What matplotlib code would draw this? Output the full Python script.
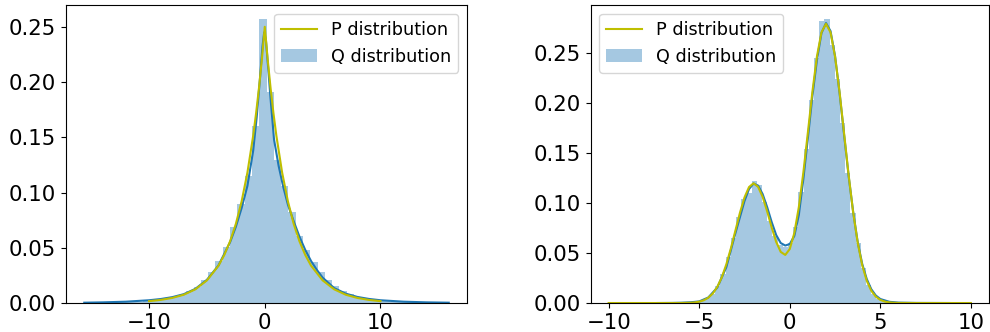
import numpy as np
import matplotlib
matplotlib.use("Agg")
import matplotlib.pyplot as plt

# ---------------- Left panel data (Laplace-like) ----------------
left_hist_range = (-15.6, 15.9)
left_hist_heights = [0.0002, 0.0002, 0.0003, 0.0003, 0.0005, 0.0006, 0.0009, 0.0012, 0.0016, 0.0022,
                     0.003, 0.004, 0.0055, 0.0075, 0.0105, 0.0145, 0.0205, 0.028, 0.038, 0.051,
                     0.069, 0.09, 0.115, 0.16, 0.257, 0.191, 0.129, 0.106, 0.082, 0.061,
                     0.048, 0.037, 0.028, 0.021, 0.015, 0.011, 0.0078, 0.0055, 0.004, 0.0028,
                     0.002, 0.0015, 0.0011, 0.0008, 0.0006, 0.0004, 0.0003, 0.0003, 0.0002, 0.0002]

left_kde_x = [-15.6, -14, -12, -10, -9, -8, -7, -6, -5, -4, -3, -2.5, -2, -1.5, -1, -0.7, -0.4, -0.2,
              -0.05, 0.1, 0.3, 0.5, 0.8, 1.2, 1.6, 2.0, 2.5, 3, 3.5, 4, 4.5, 5, 6, 7, 8, 9, 10, 12, 14, 15.9]
left_kde_y = [0.0003, 0.0006, 0.0012, 0.0025, 0.0036, 0.0053, 0.008, 0.0128, 0.021, 0.034, 0.055, 0.069,
              0.086, 0.106, 0.138, 0.168, 0.205, 0.232, 0.245, 0.238, 0.212, 0.185, 0.148, 0.124, 0.105,
              0.089, 0.074, 0.06, 0.048, 0.038, 0.03, 0.023, 0.0135, 0.0085, 0.0055, 0.0037, 0.0025,
              0.0012, 0.0006, 0.0003]

left_p_x = [-10, -9, -8, -7, -6, -5, -4, -3.5, -3, -2.5, -2, -1.5, -1, -0.75, -0.5, -0.25, 0,
            0.25, 0.5, 0.75, 1, 1.5, 2, 2.5, 3, 3.5, 4, 5, 6, 7, 8, 9, 10]
left_p_y = [0.0017, 0.0028, 0.0046, 0.0075, 0.0124, 0.0205, 0.0338, 0.0435, 0.0558, 0.0716, 0.092,
            0.1181, 0.1516, 0.1718, 0.1947, 0.2206, 0.25, 0.2206, 0.1947, 0.1718, 0.1516, 0.1181,
            0.092, 0.0716, 0.0558, 0.0435, 0.0338, 0.0205, 0.0124, 0.0075, 0.0046, 0.0028, 0.0017]

left_xticks = [-10, 0, 10]

# ---------------- Right panel data (bimodal) ----------------
right_hist_range = (-6.413, 7.937)
right_hist_heights = [0.0001, 0.0001, 0.0002, 0.0004, 0.001, 0.0022, 0.0048, 0.0095, 0.0175, 0.029,
                      0.046, 0.065, 0.086, 0.104, 0.11, 0.1217, 0.118, 0.101, 0.0817, 0.0667,
                      0.058, 0.056, 0.06, 0.076, 0.111, 0.154, 0.203, 0.245, 0.2816, 0.284,
                      0.258, 0.224, 0.18, 0.13, 0.09, 0.06, 0.035, 0.018, 0.0088, 0.004,
                      0.0017, 0.0007, 0.0003, 0.0001, 0.0001, 0.00005, 0.00003, 0.00002, 0.0, 0.00002]

right_kde_x = [-7.3, -6.5, -6, -5.5, -5, -4.5, -4, -3.5, -3, -2.5, -2.25, -2, -1.75, -1.5, -1.25, -1,
               -0.75, -0.5, -0.25, 0, 0.25, 0.5, 0.75, 1, 1.25, 1.5, 1.75, 2, 2.25, 2.5, 2.75, 3,
               3.25, 3.5, 3.75, 4, 4.25, 4.5, 4.75, 5, 5.5, 6, 7, 8.8]
right_kde_y = [0.0, 0.0001, 0.0003, 0.0007, 0.0016, 0.0055, 0.0155, 0.036, 0.07, 0.102, 0.114, 0.1195,
               0.1175, 0.109, 0.096, 0.081, 0.068, 0.06, 0.0575, 0.059, 0.067, 0.088, 0.124, 0.165,
               0.207, 0.243, 0.27, 0.28, 0.272, 0.247, 0.21, 0.168, 0.127, 0.091, 0.061, 0.039, 0.024,
               0.0138, 0.0075, 0.004, 0.0012, 0.0004, 0.0001, 0.0]

right_p_x = [-10, -8, -7, -6, -5.5, -5.25, -5, -4.75, -4.5, -4.25, -4, -3.75, -3.5, -3.25, -3, -2.75,
             -2.5, -2.25, -2, -1.75, -1.5, -1.25, -1, -0.75, -0.5, -0.25, 0, 0.25, 0.5, 0.75, 1,
             1.25, 1.5, 1.75, 2, 2.25, 2.5, 2.75, 3, 3.25, 3.5, 3.75, 4, 4.25, 4.5, 4.75, 5, 5.25,
             5.5, 5.75, 6, 7, 8, 10]
right_p_y = [0.0, 0.0, 0.0, 0.00003, 0.00026, 0.00061, 0.00133, 0.00273, 0.00526, 0.00952, 0.0162,
             0.02588, 0.03886, 0.0548, 0.07259, 0.09034, 0.10562, 0.116, 0.11977, 0.11625, 0.10623,
             0.09176, 0.07569, 0.06116, 0.05113, 0.0481, 0.05399, 0.06992, 0.09592, 0.13059, 0.17071,
             0.21141, 0.24671, 0.27077, 0.2793, 0.27067, 0.24645, 0.2108, 0.16938, 0.12786, 0.09066,
             0.0604, 0.03779, 0.02222, 0.01227, 0.00636, 0.0031, 0.00142, 0.00061, 0.00025, 0.00009,
             0.0, 0.0, 0.0]

right_xticks = [-10, -5, 0, 5, 10]
yticks = [0.00, 0.05, 0.10, 0.15, 0.20, 0.25]

labels = ["P distribution", "Q distribution"]

BLUE = "#1f77b4"
YELLOW = "y"
TICK_FS = 15.3
LEG_FS = 12.7

fig = plt.figure(figsize=(9.9, 3.32), dpi=100)
ax1 = fig.add_axes([0.0667, 0.0873, 0.405, 0.898])
ax2 = fig.add_axes([0.5965, 0.0873, 0.4025, 0.898])


def draw(ax, hist_range, heights, kde_x, kde_y, p_x, p_y, xticks, loc):
    n = len(heights)
    edges = np.linspace(hist_range[0], hist_range[1], n + 1)
    _, _, bars = ax.hist(edges[:-1], bins=edges, weights=heights, color=BLUE, alpha=0.4)
    ax.plot(kde_x, kde_y, color=BLUE, lw=1.5)
    p_line, = ax.plot(p_x, p_y, color=YELLOW, lw=1.5)
    ax.set_xticks(xticks)
    ax.set_yticks(yticks)
    ax.set_yticklabels([f"{v:.2f}" for v in yticks])
    ax.tick_params(labelsize=TICK_FS)
    ax.legend([p_line, bars[0]], labels, loc=loc, fontsize=LEG_FS)


draw(ax1, left_hist_range, left_hist_heights, left_kde_x, left_kde_y, left_p_x, left_p_y,
     left_xticks, "upper right")
draw(ax2, right_hist_range, right_hist_heights, right_kde_x, right_kde_y, right_p_x, right_p_y,
     right_xticks, "upper left")

fig.savefig("out.png", dpi=100)
